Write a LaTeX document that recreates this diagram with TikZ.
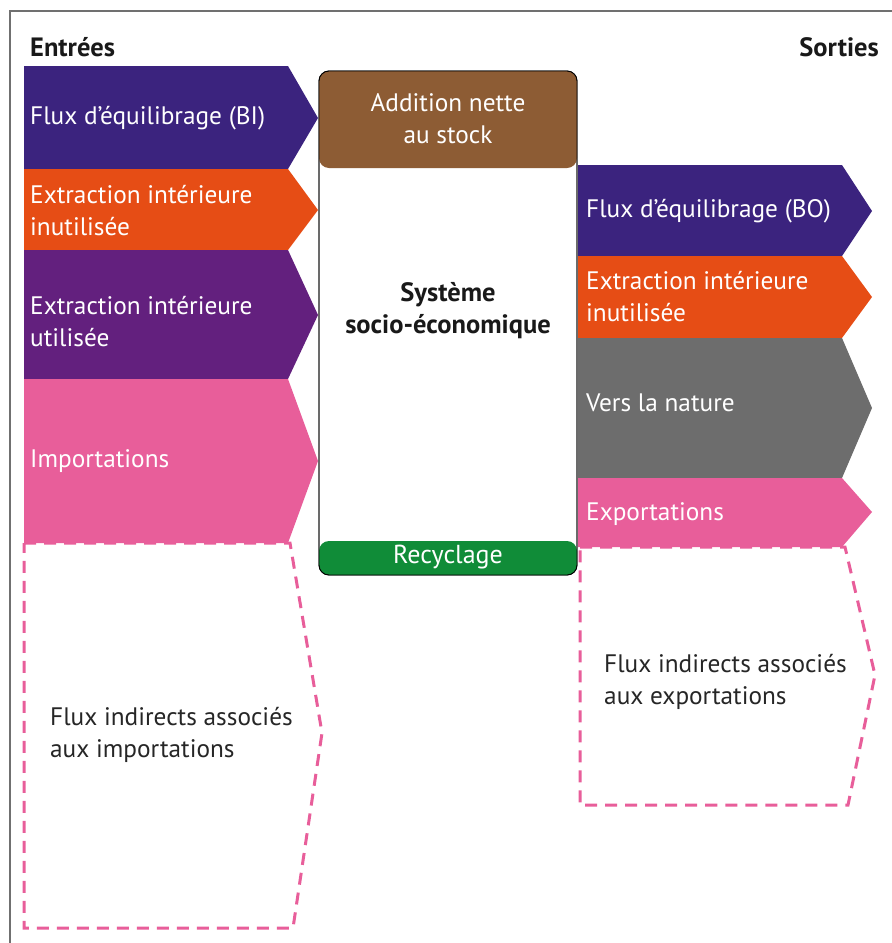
\documentclass[tikz,border=0pt]{standalone}
\usepackage{fontspec}
\setmainfont{PT Sans}
\definecolor{cdpurple}{HTML}{3B237E}
\definecolor{corange}{HTML}{E64D15}
\definecolor{cpurple}{HTML}{63207E}
\definecolor{cpink}{HTML}{E85E9A}
\definecolor{cgray}{HTML}{6D6D6D}
\definecolor{cbrown}{HTML}{8D5C34}
\definecolor{cgreen}{HTML}{108C38}
\definecolor{cframe}{HTML}{707070}
\begin{document}
\begin{tikzpicture}[x=1pt,y=-1pt,
  wlbl/.style={text=white, font=\fontsize{25.3}{32}\selectfont, anchor=west, align=left, inner sep=0pt},
  blbl/.style={text=black!85, font=\fontsize{25.3}{32}\selectfont, anchor=west, align=left, inner sep=0pt},
  head/.style={text=black!90, font=\bfseries\fontsize{26.5}{30}\selectfont, inner sep=0pt},
  dashbox/.style={draw=cpink, line width=3pt, dash pattern=on 12pt off 8pt},
  centerbox/.style={draw=black, line width=0.9pt, rounded corners=10pt}]
\useasboundingbox (0,0) rectangle (892,943);
% frame
\draw[cframe, line width=1.4pt] (10,943) -- (10,11) -- (892,11);
% headings
\node[head, anchor=west] (entrees) at (30,47) {Entrées};
\node[head, anchor=east] (sorties) at (879,47) {Sorties};
% left arrows
\fill[cdpurple] (24,66) -- (288,66) -- (318,118) -- (288,169) -- (24,169) -- cycle;
\fill[corange] (24,169) -- (288,169) -- (318,210) -- (288,250) -- (24,250) -- cycle;
\fill[cpurple] (24,250) -- (288,250) -- (318,315) -- (288,379) -- (24,379) -- cycle;
\fill[cpink] (24,379) -- (288,379) -- (318,461) -- (288,543) -- (24,543) -- cycle;
\draw[dashbox] (24,543) -- (290,543) -- (322,733) -- (293,928) -- (24,928) -- cycle;
% right arrows
\fill[cdpurple] (578,165) -- (842,165) -- (872,211) -- (842,256) -- (578,256) -- cycle;
\fill[corange] (578,256) -- (842,256) -- (872,297) -- (842,338) -- (578,338) -- cycle;
\fill[cgray] (578,338) -- (842,338) -- (872,408) -- (842,478) -- (578,478) -- cycle;
\fill[cpink] (578,478) -- (842,478) -- (872,512) -- (842,547) -- (578,547) -- cycle;
\draw[dashbox] (580,547) -- (845,547) -- (875,675) -- (848,805) -- (580,805) -- cycle;
% central box
\draw[centerbox, fill=white] (319,71) rectangle (577,575);
\fill[cbrown, rounded corners=10pt] (319,71) rectangle (577,168);
\fill[cgreen, rounded corners=10pt] (319,541) rectangle (577,575);
\draw[centerbox] (319,71) rectangle (577,575);
% left labels
\node[wlbl] (l1) at (30,118) {Flux d’équilibrage (BI)};
\node[wlbl] (l2) at (30,211) {Extraction intérieure\\inutilisée};
\node[wlbl] (l3) at (30,322) {Extraction intérieure\\utilisée};
\node[wlbl] (l4) at (30,461) {Importations};
\node[blbl] (l5) at (50,735) {Flux indirects associés\\aux importations};
% center labels
\node[text=white, font=\fontsize{25.3}{32}\selectfont, align=center, inner sep=0pt] (c1) at (448,119) {Addition nette\\au stock};
\node[text=black!90, font=\bfseries\fontsize{26.5}{32}\selectfont, align=center, inner sep=0pt] (c2) at (448,311) {Système\\socio-économique};
\node[text=white, font=\fontsize{26}{28}\selectfont, inner sep=0pt] (c3) at (448,557) {Recyclage};
% right labels
\node[wlbl] (r1) at (586,211) {Flux d’équilibrage (BO)};
\node[wlbl] (r2) at (586,297) {Extraction intérieure\\inutilisée};
\node[wlbl] (r3) at (586,403) {Vers la nature};
\node[wlbl] (r4) at (586,514) {Exportations};
\node[blbl] (r5) at (604,682) {Flux indirects associés\\aux exportations};
\end{tikzpicture}
\end{document}
